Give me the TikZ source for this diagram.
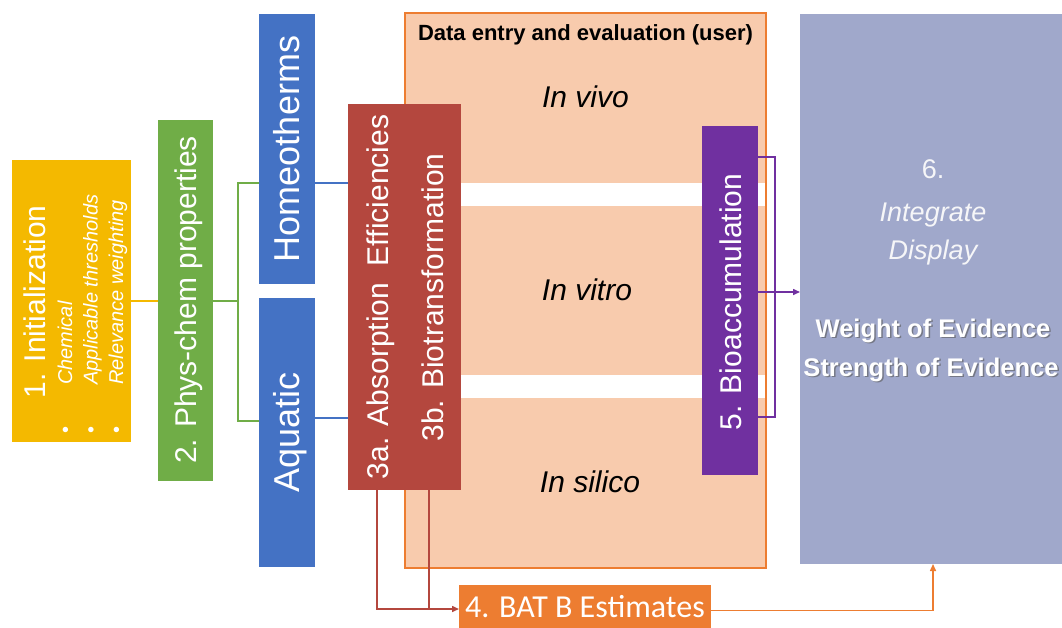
\documentclass[tikz,border=0pt]{standalone}
\usepackage{fontspec}
\setmainfont{Liberation Sans}
\newfontfamily\calib{Carlito}
\usetikzlibrary{arrows.meta}
\definecolor{cyel}{RGB}{244,185,0}
\definecolor{cgrn}{RGB}{112,173,71}
\definecolor{cblu}{RGB}{68,114,196}
\definecolor{cred}{RGB}{180,71,62}
\definecolor{cpeach}{RGB}{248,203,173}
\definecolor{corg}{RGB}{237,125,49}
\definecolor{cpur}{RGB}{112,48,160}
\definecolor{clav}{RGB}{160,168,203}
\definecolor{ctxt}{RGB}{246,246,248}
\begin{document}
\begin{tikzpicture}[x=1pt,y=-1pt,
  box/.style={inner sep=0pt, outer sep=0pt, draw=none},
  vlbl/.style={text=white, inner sep=0pt, rotate=90, anchor=base, font=\fontsize{30}{36}\selectfont},
  item/.style={text=white, inner sep=0pt, rotate=90, anchor=base west, font=\fontsize{20}{24}\selectfont\itshape},
  bul/.style={text=white, inner sep=0pt, rotate=90, anchor=base, font=\fontsize{20}{24}\selectfont},
  hlbl/.style={text=black, inner sep=0pt, anchor=base, font=\fontsize{30}{36}\selectfont\itshape},
  wlbl/.style={text=ctxt, inner sep=0pt, anchor=base, font=\fontsize{27}{32}\selectfont},
  blbl/.style={inner sep=0pt, anchor=base, font=\fontsize{25.5}{31}\selectfont\bfseries},
  conn/.style={line width=1.5pt},
  arr/.style={-{Triangle[length=7pt,width=6pt]}}
]
\useasboundingbox (0,0) rectangle (1062,627);
\clip (0,0) rectangle (1062,627);

% data entry area
\node[box, fill=cpeach, minimum width=361pt, minimum height=555pt] (data) at (585.5,290.5) {};
\node[box, fill=white, minimum width=361pt, minimum height=23pt] (band1) at (585.5,194.5) {};
\node[box, fill=white, minimum width=361pt, minimum height=23pt] (band2) at (585.5,386.5) {};
\draw[corg, line width=1.5pt] (data.north west) rectangle (data.south east);

% boxes
\node[box, fill=cyel, minimum width=119pt, minimum height=282pt] (b1) at (71.5,301) {};
\node[box, fill=cgrn, minimum width=55pt, minimum height=361pt] (b2) at (185.5,300.5) {};
\node[box, fill=cblu, minimum width=56pt, minimum height=270pt] (hom) at (287,149) {};
\node[box, fill=cblu, minimum width=56pt, minimum height=269pt] (aq) at (287,432.5) {};
\node[box, fill=cred, minimum width=113pt, minimum height=386pt] (b3) at (404.5,297) {};
\node[box, fill=cpur, minimum width=56pt, minimum height=349pt] (b5) at (730,300.5) {};
\node[box, fill=clav, minimum width=266pt, minimum height=550pt] (b6) at (933,289) {};
\node[box, fill=corg, minimum width=252pt, minimum height=51pt] (b4) at (585,610.5) {};

% labels
\node[vlbl] (t1) at (45,302) {1. Initialization};
\node[bul] (d1) at (72,430) {•};
\node[bul] (d2) at (97.5,430) {•};
\node[bul] (d3) at (123,430) {•};
\node[item] (i1) at (72,385) {Chemical};
\node[item] (i2) at (97.5,385) {Applicable thresholds};
\node[item] (i3) at (123,385) {Relevance weighting};
\node[vlbl] (t2) at (196.5,300) {2. Phys-chem properties};
\node[vlbl, font=\fontsize{36}{42}\selectfont] (thom) at (299,149) {Homeotherms};
\node[vlbl, font=\fontsize{36}{42}\selectfont] (taq) at (299,432.5) {Aquatic};
\node[vlbl] (t3a) at (388,297) {3a. Absorption\ \ Efficiencies};
\node[vlbl] (t3b) at (443,297.5) {3b. Biotransformation};
\node[vlbl] (t5) at (741.5,302) {5. Bioaccumulation};
\node[inner sep=0pt, anchor=base, font=\fontsize{22}{26}\selectfont\bfseries] (tdata) at (585.5,40) {Data entry and evaluation (user)};
\node[hlbl] (tvivo) at (585.5,107) {In vivo};
\node[hlbl] (tvitro) at (587,300) {In vitro};
\node[hlbl] (tsilico) at (590,492.5) {In silico};
\node[wlbl] (t6) at (933,178) {6.};
\node[wlbl, font=\fontsize{27}{32}\selectfont\itshape] (tint) at (933,221) {Integrate};
\node[wlbl, font=\fontsize{27}{32}\selectfont\itshape] (tdisp) at (933,259) {Display};
\node[blbl, text=black!65, opacity=0.6] (swoe) at (934.5,338.5) {Weight of Evidence};
\node[blbl, text=black!65, opacity=0.6] (ssoe) at (932.5,377.5) {Strength of Evidence};
\node[blbl, text=white] (twoe) at (933,337) {Weight of Evidence};
\node[blbl, text=white] (tsoe) at (931,376) {Strength of Evidence};
\node[inner sep=0pt, anchor=base, text=white, font=\calib\fontsize{32}{38}\selectfont] (t4) at (585,617) {4. BAT B Estimates};

% connectors
\draw[cyel, conn] (b1.east) -- (b1.east -| b2.west);
\coordinate (gj) at (238,301);
\coordinate (gt) at (238,183);
\coordinate (gb) at (238,421);
\draw[cgrn, conn] (b2.east |- gj) -- (gj);
\draw[cgrn, conn] (gt -| hom.west) -- (gt) -- (gb) -- (gb -| aq.west);
\coordinate (bt) at (0,183);
\coordinate (bb) at (0,418);
\draw[cblu, conn] (hom.east |- bt) -- (b3.west |- bt);
\draw[cblu, conn] (aq.east |- bb) -- (b3.west |- bb);
\coordinate (p1) at (775,157);
\coordinate (p2) at (775,417);
\coordinate (pm) at (0,292);
\draw[cpur, conn] (b5.east |- p1) -- (p1) -- (p2) -- (b5.east |- p2);
\draw[cpur, conn, arr] (b5.east |- pm) -- (b6.west |- pm);
\coordinate (r1) at (377,609);
\coordinate (r2) at (429,609);
\draw[cred, conn, arr] (b3.south -| r1) -- (r1) -- (r1 -| b4.west);
\draw[cred, conn] (b3.south -| r2) -- (r2);
\coordinate (o1) at (933,610.5);
\draw[corg, conn, arr] (b4.east) -- (o1) -- (b6.south);
\end{tikzpicture}
\end{document}
